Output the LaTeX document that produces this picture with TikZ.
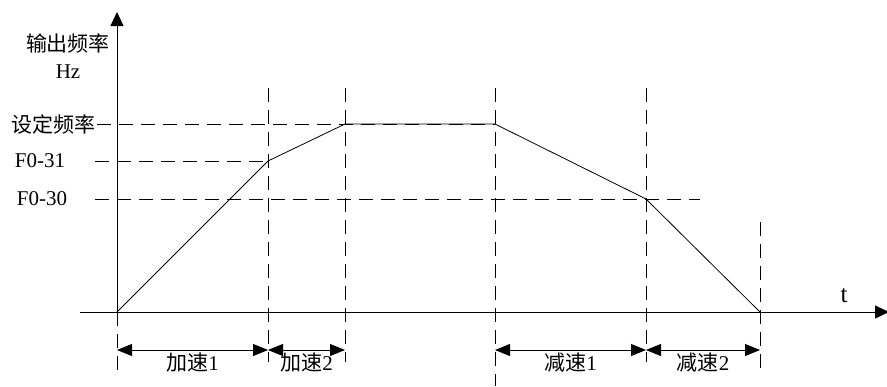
\documentclass[tikz,border=0pt]{standalone}
\usepackage{fontspec}
\setmainfont{Liberation Serif}
\newfontfamily\cjk{Noto Sans CJK SC}
\usetikzlibrary{arrows.meta}

\tikzset{
  axis/.style={line width=0.9pt,-{Triangle[length=14pt,width=13pt]}},
  guide/.style={line width=0.8pt,dash pattern=on 14pt off 8pt},
  curve/.style={line width=0.8pt},
  dim/.style={line width=0.8pt,{Triangle[length=15pt,width=12pt]}-{Triangle[length=15pt,width=12pt]}},
}

\begin{document}
\begin{tikzpicture}[x=1pt,y=-1pt,font=\fontsize{21}{24}\selectfont]
        \useasboundingbox (0,0) rectangle (887,386);

        % points of the curve
        \coordinate (o)  at (117,312);
        \coordinate (p1) at (268,161);
        \coordinate (p2) at (345,124);
        \coordinate (p3) at (495,124);
        \coordinate (p4) at (646,199);
        \coordinate (p5) at (760,312);

        % axes
        \coordinate (xs) at (80,312);
        \coordinate (xe) at (889,312);
        \coordinate (ye) at (117,12);
        \draw[axis] (xs) -- (xe);
        \draw[axis] (o) -- (ye);

        \begin{scope}[every node/.style={inner sep=1pt}]
          \node (lf)  at (68,43)  {\cjk 输出频率};
          \node (lhz) at (68,72)  {Hz};
          \node (ls)  at (54,124) {\cjk 设定频率};
          \node (l31) at (40,161) {F0-31};
          \node (l30) at (42,199) {F0-30};
          \node (lt)  at (844,296) {\fontsize{25}{28}\selectfont t};
        \end{scope}

        % guide lines
        \begin{scope}[every path/.style={guide}]
          \draw (ls.east) -- (p3);
          \draw (95,161) -- (p1);
          \draw (95,199) -- (700,199);
          \draw (o) -- (117,372);
          \draw (268,88) -- (268,362);
          \draw (345,88) -- (345,362);
          \draw (495,88) -- (495,386);
          \draw (646,88) -- (646,362);
          \draw (760,222) -- (760,372);
        \end{scope}

        \draw[curve] (o) -- (p1) -- (p2) -- (p3) -- (p4) -- (p5);

        % time intervals
        \coordinate (d0) at (117,350);
        \coordinate (d1) at (268,350);
        \coordinate (d2) at (345,350);
        \coordinate (d3) at (495,350);
        \coordinate (d4) at (646,350);
        \coordinate (d5) at (760,350);

        \begin{scope}[every node/.style={below,inner sep=2pt}]
          \draw[dim] (d0) -- node {{\cjk 加速}1} (d1);
          \draw[dim] (d1) -- node {{\cjk 加速}2} (d2);
          \draw[dim] (d3) -- node {{\cjk 减速}1} (d4);
          \draw[dim] (d4) -- node {{\cjk 减速}2} (d5);
        \end{scope}

      \end{tikzpicture}
\end{document}
